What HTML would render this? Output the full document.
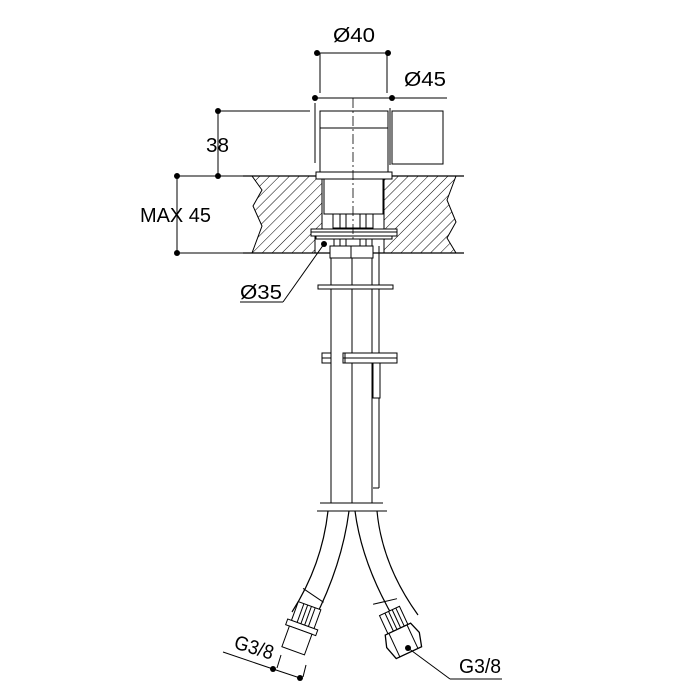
<!DOCTYPE html>
<html><head><meta charset="utf-8"><style>
html,body{margin:0;padding:0;background:#fff}
svg{display:block}
text{font-family:"Liberation Sans Narrow","Liberation Sans",sans-serif;font-size:20px;fill:#000}
</style></head><body>
<svg width="700" height="700" viewBox="0 0 700 700" xmlns="http://www.w3.org/2000/svg">
<defs>
<pattern id="h" patternUnits="userSpaceOnUse" width="7" height="7" patternTransform="rotate(45)">
<line x1="0" y1="0" x2="0" y2="7" stroke="#000" stroke-width="1"/>
</pattern>
</defs>
<g stroke="#000" fill="none" stroke-width="1">
<path d="M252,176 L322,176 L322,230 L315,230 L315,253 L252,253 L262,226 L253,206 L262,190 Z" fill="url(#h)"/>
<path d="M384,176 L456,176 L447,200 L456,222 L447,238 L456,253 L384,253 Z" fill="url(#h)"/>
<line x1="243" y1="176" x2="464" y2="176" stroke-width="1.3"/>
<line x1="243" y1="253" x2="464" y2="253" stroke-width="1.3"/>
<rect x="320" y="111" width="68" height="61" fill="#fff"/>
<line x1="320" y1="128" x2="388" y2="128"/>
<line x1="315" y1="103" x2="315" y2="163"/>
<line x1="390" y1="108" x2="390" y2="165"/>
<rect x="392" y="111" width="51" height="53" fill="#fff"/>
<rect x="316" y="172" width="76" height="7" fill="#fff"/>
<rect x="324" y="179" width="59" height="35" fill="#fff"/>
<rect x="333" y="214" width="40" height="14" fill="#fff"/>
<line x1="340" y1="214" x2="340" y2="228"/><line x1="346" y1="214" x2="346" y2="228"/>
<line x1="360" y1="214" x2="360" y2="228"/><line x1="366" y1="214" x2="366" y2="228"/>
<rect x="311" y="229" width="86" height="7" fill="#fff"/>
<line x1="311" y1="232" x2="397" y2="232"/>
<rect x="316" y="236" width="76" height="3" fill="#fff"/>
<rect x="334" y="239" width="38" height="8" fill="#fff"/>
<line x1="340" y1="239" x2="340" y2="247"/><line x1="346" y1="239" x2="346" y2="247"/><line x1="360" y1="239" x2="360" y2="247"/><line x1="366" y1="239" x2="366" y2="247"/>
<rect x="330" y="246" width="21" height="12" fill="#fff"/>
<rect x="351" y="246" width="22" height="12" fill="#fff"/>
<line x1="353" y1="98" x2="353" y2="240" stroke-dasharray="10,3,2,3" stroke-width="0.8"/>
<line x1="331" y1="258" x2="331" y2="503"/>
<line x1="352" y1="258" x2="352" y2="503"/>
<line x1="372" y1="258" x2="372" y2="503"/>
<line x1="379" y1="246" x2="379" y2="488"/>
<line x1="373" y1="488" x2="379" y2="488"/>
<rect x="318" y="285" width="75" height="4" fill="#fff"/>
<rect x="322" y="353" width="9" height="10" fill="#fff"/>
<line x1="322" y1="358" x2="331" y2="358"/>
<rect x="343" y="353" width="54" height="10" fill="#fff"/>
<line x1="343" y1="358" x2="397" y2="358"/>
<line x1="345" y1="353" x2="345" y2="363"/>
<rect x="373" y="363" width="7" height="35" fill="#fff"/>
<line x1="320" y1="503" x2="383" y2="503"/>
<line x1="317" y1="511" x2="387" y2="511"/>
<path d="M328,511 Q322,565 292,612" stroke-width="1.2"/>
<path d="M349,511 Q342,565 314,620" stroke-width="1.2"/>
<path d="M377,511 Q382,565 418,615" stroke-width="1.2"/>
<path d="M355,511 Q362,565 396,622" stroke-width="1.2"/>
<g transform="translate(300,632) rotate(20)" fill="#fff">
<line x1="-12" y1="-42" x2="12" y2="-36"/>
<rect x="-12" y="-28" width="24" height="20"/>
<line x1="-6" y1="-28" x2="-6" y2="-8"/><line x1="-2" y1="-28" x2="-2" y2="-8"/><line x1="2" y1="-28" x2="2" y2="-8"/><line x1="6" y1="-28" x2="6" y2="-8"/>
<rect x="-16" y="-8" width="32" height="6"/>
<rect x="-12" y="-2" width="24" height="22"/>
</g>
<g transform="translate(403,640) rotate(-25)" fill="#fff">
<line x1="-12" y1="-45" x2="12" y2="-40"/>
<rect x="-11" y="-32" width="22" height="20"/>
<line x1="-5" y1="-32" x2="-5" y2="-12"/><line x1="-1" y1="-32" x2="-1" y2="-12"/><line x1="3" y1="-32" x2="3" y2="-12"/><line x1="7" y1="-32" x2="7" y2="-12"/>
<path d="M-14,-12 L14,-12 L18,0 L14,14 L-14,14 L-18,0 Z" stroke-width="1.3"/>
<line x1="-10" y1="-12" x2="-10" y2="14"/><line x1="10" y1="-12" x2="10" y2="14"/>
</g>
<line x1="317" y1="53" x2="388" y2="53"/>
<line x1="320" y1="53" x2="320" y2="93"/><line x1="387" y1="53" x2="387" y2="93"/>
<line x1="315" y1="98" x2="447" y2="98"/>
<line x1="218" y1="111" x2="310" y2="111"/>
<line x1="218" y1="111" x2="218" y2="176"/>
<line x1="177" y1="176" x2="177" y2="253"/>
<line x1="177" y1="176" x2="243" y2="176"/>
<line x1="177" y1="253" x2="243" y2="253"/>
<line x1="324" y1="244" x2="283" y2="302"/>
<line x1="240" y1="302" x2="283" y2="302"/>
<line x1="223" y1="652" x2="273" y2="669"/>
<line x1="273" y1="669" x2="300" y2="678"/>
<line x1="277" y1="668" x2="281" y2="655"/>
<line x1="303" y1="677" x2="306" y2="665"/>
<line x1="408" y1="648" x2="450" y2="679"/>
<line x1="450" y1="679" x2="502" y2="679"/>
</g>
<g fill="#000">
<circle cx="317" cy="53" r="3"/><circle cx="388" cy="53" r="3"/>
<circle cx="315" cy="98" r="3"/><circle cx="392" cy="98" r="3"/>
<circle cx="218" cy="111" r="3"/><circle cx="218" cy="176" r="3"/>
<circle cx="177" cy="176" r="3"/><circle cx="177" cy="253" r="3"/>
<circle cx="324" cy="244" r="3"/>
<circle cx="273" cy="669" r="3"/><circle cx="300" cy="678" r="3"/>
<circle cx="408" cy="648" r="3"/>
</g>
<text x="333" y="42" textLength="42" lengthAdjust="spacingAndGlyphs">Ø40</text>
<text x="404" y="86" textLength="42" lengthAdjust="spacingAndGlyphs">Ø45</text>
<text x="206" y="152" textLength="23" lengthAdjust="spacingAndGlyphs">38</text>
<text x="140" y="222" textLength="71" lengthAdjust="spacingAndGlyphs">MAX 45</text>
<text x="240" y="299" textLength="42" lengthAdjust="spacingAndGlyphs">Ø35</text>
<text x="0" y="0" textLength="40" lengthAdjust="spacingAndGlyphs" transform="translate(233,648) rotate(17)">G3/8</text>
<text x="459" y="673" textLength="42" lengthAdjust="spacingAndGlyphs">G3/8</text>
</svg>
</body></html>
